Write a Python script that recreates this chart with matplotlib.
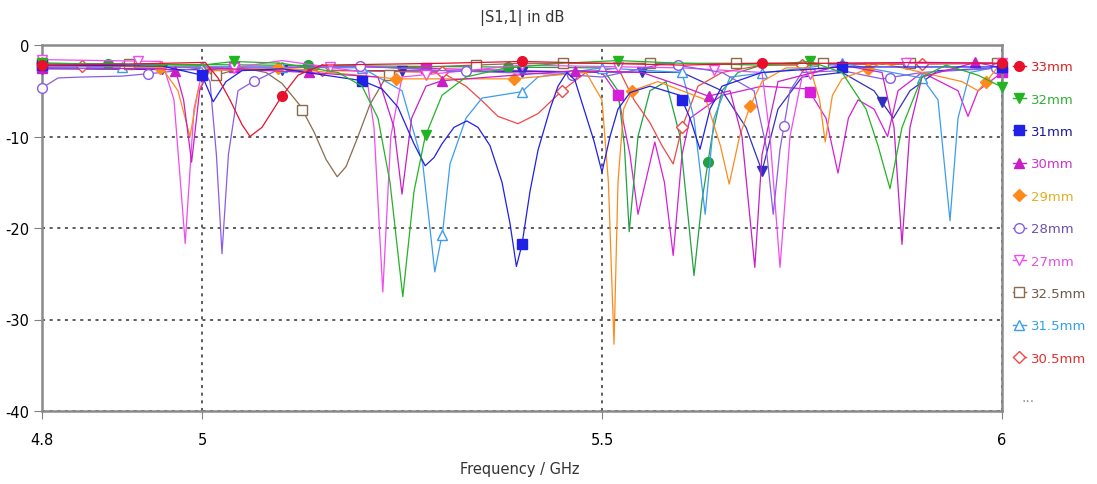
import numpy as np
import matplotlib
matplotlib.use("Agg")
import matplotlib.pyplot as plt
from matplotlib.lines import Line2D

plt.rcParams['font.family'] = ['DejaVu Sans']

# frecuencias (GHz) y |S11| (dB)
f33 = [4.80, 4.90, 5.004, 5.02, 5.035, 5.05, 5.06, 5.075, 5.099, 5.12, 5.15, 5.30, 5.40, 5.50, 5.60, 5.70,
       5.80, 5.90, 6.00]
s33 = [-2.2, -2.1, -1.9, -3.6, -6.0, -8.7, -10.0, -9.0, -5.7, -3.3, -2.2, -2.0, -1.8, -2.0, -2.2, -2.0,
       -2.0, -1.9, -2.0]

f32 = [4.80, 5.00, 5.04, 5.10, 5.17, 5.20, 5.22, 5.235, 5.251, 5.265, 5.279, 5.30, 5.33, 5.38, 5.45, 5.52,
       5.60, 5.70, 5.76, 5.80, 5.83, 5.845, 5.86, 5.875, 5.90, 5.93, 5.97, 6.00]
s32 = [-2.0, -2.2, -1.8, -2.0, -3.0, -4.5, -8.0, -15.0, -27.5, -16.0, -10.0, -5.5, -3.5, -2.5, -2.0, -1.7,
       -2.0, -2.2, -1.8, -3.0, -7.0, -11.0, -15.7, -9.0, -3.5, -2.2, -3.3, -4.6]

f31 = [4.80, 4.95, 5.00, 5.014, 5.03, 5.05, 5.10, 5.20, 5.225, 5.245, 5.265, 5.279, 5.29, 5.30, 5.315,
       5.331, 5.345, 5.36, 5.375, 5.385, 5.393, 5.40, 5.41, 5.42, 5.435, 5.445, 5.456, 5.466, 5.476,
       5.49, 5.50, 5.51, 5.52, 5.535, 5.56, 5.5975, 5.61, 5.6225, 5.635, 5.65, 5.70, 5.80, 6.00]
s31 = [-2.2, -2.3, -3.3, -6.2, -4.0, -2.8, -2.6, -3.9, -4.8, -6.8, -10.8, -13.2, -12.3, -10.8, -9.0,
       -8.3, -9.0, -11.0, -15.0, -19.5, -24.2, -21.8, -16.0, -11.5, -7.0, -4.5, -3.0, -3.8, -6.6,
       -10.5, -13.9, -10.0, -7.0, -5.2, -4.5, -5.5, -8.0, -11.4, -7.0, -4.5, -3.0, -2.4, -2.4]

f30 = [4.80, 4.95, 4.967, 4.977, 4.987, 4.997, 5.01, 5.133, 5.22, 5.24, 5.25, 5.262, 5.28, 5.30, 5.467,
       5.55, 5.60, 5.633, 5.66, 5.675, 5.691, 5.70, 5.72, 5.80, 5.85, 5.865, 5.875, 5.885, 5.90, 5.967, 6.00]
s30 = [-2.5, -2.6, -2.8, -6.0, -12.8, -5.0, -2.5, -3.0, -3.5, -9.0, -16.3, -8.0, -4.5, -3.9, -2.8,
       -3.0, -4.5, -5.6, -5.0, -10.0, -24.3, -12.0, -4.0, -2.2, -3.0, -9.0, -21.8, -9.0, -3.5, -1.9, -2.5]

f29 = [4.80, 4.95, 4.97, 4.985, 4.995, 5.01, 5.10, 5.2425, 5.39, 5.48, 5.50, 5.508, 5.515, 5.52, 5.527,
       5.5375, 5.57, 5.60, 5.63, 5.648, 5.659, 5.672, 5.685, 5.70, 5.73, 5.76, 5.772, 5.779, 5.788, 5.80,
       5.85, 5.95, 5.97, 5.985, 6.00]
s29 = [-2.0, -2.5, -5.0, -10.0, -5.0, -2.8, -2.5, -3.7, -3.7, -3.0, -6.0, -15.0, -32.7, -15.0, -7.0,
       -5.0, -4.0, -5.0, -6.0, -11.0, -15.2, -10.0, -6.7, -4.0, -2.5, -2.5, -6.0, -10.6, -5.5, -3.7,
       -2.0, -4.0, -5.0, -3.5, -1.8]

f28 = [4.80, 4.82, 4.85, 4.90, 4.95, 5.00, 5.01, 5.018, 5.025, 5.033, 5.045, 5.06, 5.10, 5.20, 5.30, 5.45,
       5.50, 5.58, 5.65, 5.69, 5.705, 5.714, 5.7225, 5.735, 5.75, 5.80, 5.85, 5.90, 6.00]
s28 = [-4.7, -3.6, -3.5, -3.4, -3.0, -2.5, -4.0, -12.0, -22.8, -12.0, -5.0, -4.2, -2.5, -2.3, -2.8, -3.2,
       -3.5, -2.0, -3.0, -5.0, -11.0, -18.5, -11.4, -5.0, -3.0, -2.8, -3.7, -3.0, -2.5]

f27 = [4.80, 4.95, 4.965, 4.979, 4.99, 5.00, 5.10, 5.205, 5.215, 5.226, 5.236, 5.25, 5.40, 5.60, 5.70,
       5.71, 5.7225, 5.735, 5.75, 5.80, 6.00]
s27 = [-1.6, -1.8, -6.0, -21.7, -7.0, -3.0, -1.7, -3.0, -9.0, -27.0, -10.0, -3.5, -2.2, -2.5, -3.0,
       -10.0, -24.3, -10.0, -3.5, -2.0, -2.0]

f325 = [4.80, 5.00, 5.014, 5.05, 5.08, 5.10, 5.1225, 5.14, 5.155, 5.169, 5.18, 5.195, 5.21, 5.23, 5.25,
        5.40, 5.60, 5.80, 6.00]
s325 = [-2.0, -2.2, -3.4, -2.5, -3.0, -4.2, -6.6, -9.5, -12.5, -14.4, -13.3, -10.0, -6.5, -3.5, -2.5,
        -2.0, -2.0, -2.0, -2.0]

f315 = [4.80, 5.20, 5.25, 5.276, 5.291, 5.301, 5.31, 5.33, 5.35, 5.40, 5.42, 5.50, 5.60, 5.615, 5.629,
        5.64, 5.66, 5.80, 5.90, 5.92, 5.935, 5.945, 5.96, 6.00]
s315 = [-2.3, -2.5, -5.0, -13.0, -24.8, -20.3, -13.0, -8.0, -5.8, -5.1, -3.5, -2.5, -3.0, -8.0, -18.5,
        -8.0, -3.5, -2.0, -3.6, -6.0, -19.2, -8.0, -3.0, -2.3]

f305 = [4.80, 5.00, 5.30, 5.33, 5.35, 5.37, 5.395, 5.42, 5.45, 5.48, 5.52, 5.54, 5.56, 5.575, 5.589,
        5.60, 5.62, 5.65, 5.70, 6.00]
s305 = [-2.2, -2.5, -3.0, -4.5, -6.1, -7.8, -8.6, -7.5, -5.0, -3.0, -2.5, -6.0, -8.5, -11.0, -13.0,
        -9.0, -4.5, -3.0, -2.2, -2.0]

# curvas sin leyenda ("...")
fsq = [4.80, 5.20, 5.50, 5.52, 5.535, 5.545, 5.566, 5.578, 5.589, 5.60, 5.61, 5.65, 5.70, 5.7575, 5.78,
       5.795, 5.808, 5.82, 5.84, 5.857, 5.87, 5.90, 5.945, 5.9575, 5.97, 6.00]
ssq = [-2.4, -2.4, -3.0, -5.5, -12.0, -18.5, -10.6, -15.0, -23.0, -12.0, -8.0, -5.5, -4.5, -4.8, -8.0,
       -14.0, -8.0, -6.0, -7.0, -10.0, -5.0, -3.0, -5.0, -7.8, -5.0, -3.0]

fgc = [4.80, 5.50, 5.52, 5.528, 5.534, 5.545, 5.56, 5.58, 5.5975, 5.615, 5.625, 5.6375, 5.65, 5.67, 5.70, 6.00]
sgc = [-2.0, -2.5, -5.0, -11.0, -20.4, -10.0, -5.0, -4.0, -10.0, -25.2, -17.0, -10.0, -5.0, -3.0, -2.2, -2.0]

fdb = [4.80, 5.60, 5.65, 5.68, 5.70, 5.72, 5.75, 5.80, 5.84, 5.864, 5.885, 5.92, 6.00]
sdb = [-2.6, -3.0, -5.0, -9.0, -13.8, -7.0, -3.5, -3.0, -5.0, -8.0, -5.0, -2.8, -2.5]

nombres = ['33mm', '32mm', '31mm', '30mm', '29mm', '28mm', '27mm', '32.5mm', '31.5mm', '30.5mm']

# (f, s, color linea, marcador, relleno, paso marcadores, inicio, color texto)
series = [
    (f33, s33, '#e8102a', 'o', True, 0.3, 4.8, '#e02020'),
    (f32, s32, '#22b422', 'v', True, 0.24, 4.8, '#30b030'),
    (f31, s31, '#2020e6', 's', True, 0.2, 4.8, '#1a1aa0'),
    (f30, s30, '#c81ec8', '^', True, 1 / 6, 4.8, '#d030d0'),
    (f29, s29, '#ff8a1c', 'D', True, 0.1475, 4.8, '#e0b020'),
    (f28, s28, '#8a5ce6', 'o', False, 0.1325, 4.8, '#6a50b0'),
    (f27, s27, '#f04cf0', 'v', False, 0.12, 4.8, '#e050e0'),
    (f325, s325, '#8c6a4a', 's', False, 0.1085, 4.8, '#6a5a4a'),
    (f315, s315, '#3c9cf0', '^', False, 0.1, 4.8, '#30a0f0'),
    (f305, s305, '#f04848', 'D', False, 0.15, 4.85, '#e03030'),
]
ocultas = [
    (fsq, ssq, '#d81ed8', 's', True, 0.24, 4.8),
    (fgc, sgc, '#22a040', 'o', True, 0.25, 4.8825),
    (fdb, sdb, '#3030c0', 'v', True, 0.15, 4.8),
]

fig = plt.figure(figsize=(10.97, 4.85), dpi=100)
ax = fig.add_axes([42 / 1097, 1 - 412 / 485, 960 / 1097, 366 / 485])


def tam(mk):
    return 7 if mk != 'D' else 6


def dibujar(f, s, col, mk, lleno, paso, ini, z):
    ax.plot(f, s, color=col, lw=0.9, zorder=z)
    fm = np.arange(ini, 6.0005, paso)
    ym = np.interp(fm, f, s)
    ax.plot(fm, ym, ls='none', marker=mk, color=col, mec=col,
            mfc=col if lleno else 'white', ms=tam(mk), mew=1.0,
            zorder=z + 0.5, clip_on=False)


for i, (f, s, col, mk, lleno, paso, ini) in enumerate(ocultas):
    dibujar(f, s, col, mk, lleno, paso, ini, 2 + i * 0.1)

for i, (f, s, col, mk, lleno, paso, ini, tc) in enumerate(series[::-1]):
    dibujar(f, s, col, mk, lleno, paso, ini, 3 + i)

ax.set_xlim(4.8, 6.0)
ax.set_ylim(-40, 0)
ax.set_xticks([4.8, 5.0, 5.5, 6.0])
ax.set_xticklabels(['4.8', '5', '5.5', '6'])
ax.set_yticks([0, -10, -20, -30, -40])
ax.set_yticklabels(['0', '-10', '-20', '-30', '-40'])
ax.tick_params(direction='out', length=6, color='#808080', labelsize=10.5)
ax.tick_params(axis='x', pad=9)
ax.tick_params(axis='y', pad=3)
ax.grid(True, ls=(0, (2, 3)), color='#303030', lw=1.1)
for sp in ax.spines.values():
    sp.set_color('#8a8a8a')
    sp.set_linewidth(1.8)

handles = []
for f, s, col, mk, lleno, paso, ini, tc in series:
    handles.append(Line2D([0], [0], color=col, lw=1, marker=mk, mec=col,
                          mfc=col if lleno else 'white', ms=tam(mk)))
leg = ax.legend(handles, nombres, loc='upper left', bbox_to_anchor=(1.003, 0.98),
                frameon=False, handlelength=1.0, handletextpad=0.35, labelspacing=1.47,
                fontsize=9.5, labelcolor=[t[7] for t in series], borderaxespad=0.2)
fig.text(1028 / 1097, 1 - 398 / 485, '...', color='#909090', fontsize=10, ha='center', va='center')

fig.text(522 / 1097, 1 - 18 / 485, '|S1,1| in dB', ha='center', va='center', fontsize=10.5, color='#333333')
fig.text(520 / 1097, 1 - 470 / 485, 'Frequency / GHz', ha='center', va='center', fontsize=10.5, color='#333333')

fig.savefig('out.png', dpi=100)
